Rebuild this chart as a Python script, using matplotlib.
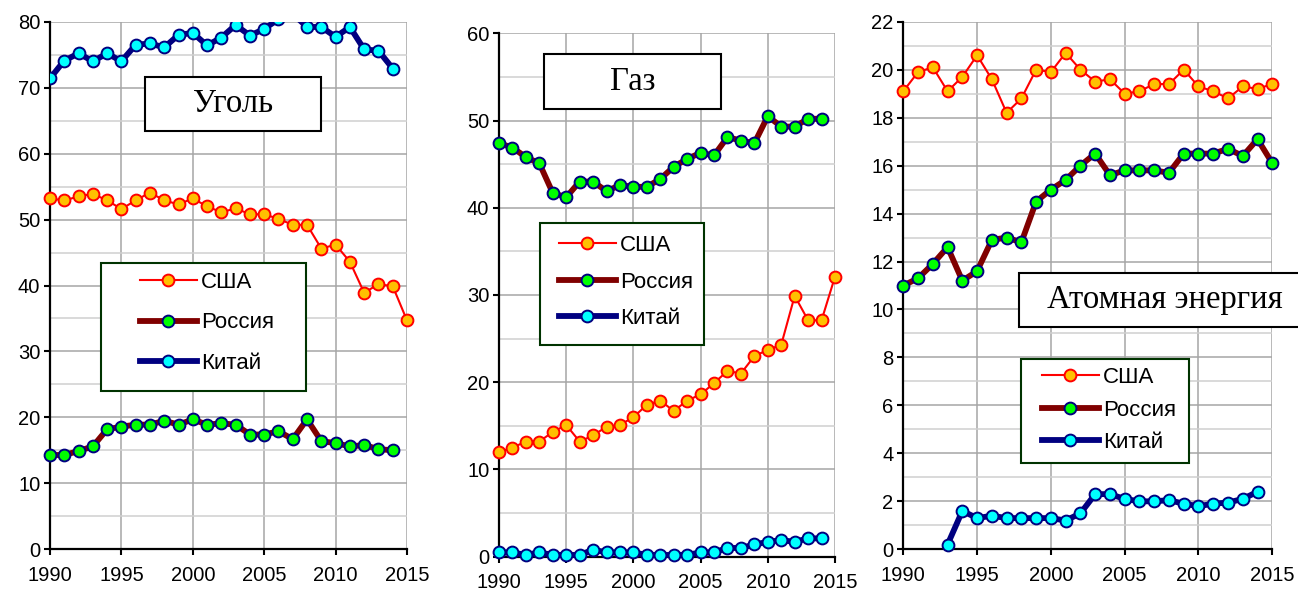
import matplotlib
matplotlib.use('Agg')
import matplotlib.pyplot as plt
from matplotlib.patches import Rectangle
from matplotlib.ticker import MultipleLocator

plt.rcParams['font.family'] = ['Liberation Sans', 'DejaVu Sans']

W, H = 1298, 590

# годы
years_26 = list(range(1990, 2016))
years_25 = list(range(1990, 2015))
years_cn_nuc = list(range(1993, 2015))

# Уголь
coal_usa = [53.2, 52.9, 53.5, 53.9, 52.9, 51.6, 52.9, 54.1, 52.9, 52.3, 53.2, 52.0, 51.1,
            51.7, 50.8, 50.8, 50.1, 49.2, 49.2, 45.6, 46.2, 43.6, 38.9, 40.2, 39.9, 34.7]
coal_rus = [14.3, 14.3, 14.9, 15.6, 18.2, 18.6, 18.9, 18.9, 19.5, 18.9, 19.7, 18.9, 19.1,
            18.9, 17.4, 17.4, 17.9, 16.7, 19.7, 16.4, 16.1, 15.6, 15.8, 15.2, 15.0]
coal_chn = [71.4, 74.1, 75.2, 74.0, 75.2, 74.0, 76.5, 76.7, 76.1, 78.0, 78.3, 76.4, 77.6,
            79.5, 77.9, 78.9, 80.4, 81.2, 79.2, 79.2, 77.7, 79.2, 75.8, 75.6, 72.9]

# Газ
gas_usa = [12.0, 12.5, 13.2, 13.2, 14.3, 15.1, 13.2, 13.9, 14.9, 15.1, 16.0, 17.4, 17.9,
           16.7, 17.9, 18.6, 19.9, 21.3, 21.0, 23.0, 23.7, 24.3, 29.9, 27.1, 27.1, 32.1]
gas_rus = [47.4, 46.9, 45.8, 45.1, 41.7, 41.2, 43.0, 43.0, 41.9, 42.6, 42.4, 42.4, 43.3,
           44.7, 45.6, 46.3, 46.0, 48.1, 47.7, 47.4, 50.5, 49.3, 49.3, 50.2, 50.2]
gas_chn = [0.5, 0.5, 0.2, 0.5, 0.2, 0.2, 0.2, 0.8, 0.5, 0.5, 0.5, 0.2, 0.2,
           0.2, 0.2, 0.5, 0.5, 1.0, 1.0, 1.4, 1.7, 1.9, 1.7, 2.1, 2.1]

# Атомная энергия
nuc_usa = [19.1, 19.9, 20.1, 19.1, 19.7, 20.6, 19.6, 18.2, 18.8, 20.0, 19.9, 20.7, 20.0,
           19.5, 19.6, 19.0, 19.1, 19.4, 19.4, 20.0, 19.3, 19.1, 18.8, 19.3, 19.2, 19.4]
nuc_rus = [11.0, 11.3, 11.9, 12.6, 11.2, 11.6, 12.9, 13.0, 12.8, 14.5, 15.0, 15.4, 16.0,
           16.5, 15.6, 15.8, 15.8, 15.8, 15.7, 16.5, 16.5, 16.5, 16.7, 16.4, 17.1, 16.1]
nuc_chn = [0.2, 1.6, 1.3, 1.4, 1.3, 1.3, 1.3, 1.3, 1.2, 1.5, 2.3, 2.3,
           2.1, 2.0, 2.0, 2.05, 1.9, 1.8, 1.9, 1.95, 2.1, 2.4]

labels = ['США', 'Россия', 'Китай']

style_usa = dict(color='red', lw=1.5, marker='o', ms=8.5, mfc='#FFC000', mec='red', mew=1.4)
style_rus = dict(color='#800000', lw=4.2, marker='o', ms=8.5, mfc='#00FF00', mec='#000080', mew=1.4)
style_chn = dict(color='#000080', lw=4.2, marker='o', ms=8.5, mfc='#00FFFF', mec='#000080', mew=1.4)


def px(x0, y0, x1, y1):
    return [x0 / W, 1 - y1 / H, (x1 - x0) / W, (y1 - y0) / H]


fig = plt.figure(figsize=(W / 100, H / 100), dpi=100)

panels = [
    dict(rect=(50, 21.7, 407, 549.3), ymax=80, major=10, minor=5,
         series=[(years_26, coal_usa, style_usa, False),
                 (years_25, coal_rus, style_rus, False),
                 (years_25, coal_chn, style_chn, True)],
         title='Уголь', tbox=(145, 77, 321, 131),
         lbox=(101, 263, 306, 391), lhx=140, lcy=323, lspace=0.88),
    dict(rect=(499, 33.3, 835, 556.7), ymax=60, major=10, minor=5,
         series=[(years_26, gas_usa, style_usa, False),
                 (years_25, gas_rus, style_rus, False),
                 (years_25, gas_chn, style_chn, False)],
         title='Газ', tbox=(544, 54, 721, 109),
         lbox=(540, 223, 704, 345), lhx=559, lcy=282, lspace=0.7),
    dict(rect=(903.3, 21.7, 1272.3, 549.3), ymax=22, major=2, minor=1,
         series=[(years_26, nuc_usa, style_usa, False),
                 (years_26, nuc_rus, style_rus, False),
                 (years_cn_nuc, nuc_chn, style_chn, False)],
         title='Атомная энергия', tbox=(1019, 273, 1310, 327),
         lbox=(1021, 359, 1189, 463), lhx=1042, lcy=410, lspace=0.51),
]

for p in panels:
    ax = fig.add_axes(px(*p['rect']))
    ax.set_xlim(1990, 2015)
    ax.set_ylim(0, p['ymax'])
    ax.xaxis.set_major_locator(MultipleLocator(5))
    ax.yaxis.set_major_locator(MultipleLocator(p['major']))
    ax.yaxis.set_minor_locator(MultipleLocator(p['minor']))
    ax.grid(which='major', color='#a6a6a6', lw=1.1)
    ax.grid(which='minor', axis='y', color='#d0d0d0', lw=1.1)
    ax.set_axisbelow(True)
    for s in ['top', 'right']:
        ax.spines[s].set_visible(False)
    for s in ['left', 'bottom']:
        ax.spines[s].set_linewidth(1.6)
        ax.spines[s].set_color('black')
    ax.tick_params(which='major', length=4, width=1.5, labelsize=14.5)
    ax.tick_params(axis='x', pad=8)
    ax.tick_params(axis='y', pad=3)
    ax.tick_params(which='minor', length=0)

    handles = []
    for xs, ys, st, clip in p['series']:
        ln, = ax.plot(xs, ys, clip_on=clip, zorder=3, **st)
        handles.append(ln)

    # рамка заголовка
    x0, y0, x1, y1 = p['tbox']
    fig.add_artist(Rectangle((x0 / W, 1 - y1 / H), (x1 - x0) / W, (y1 - y0) / H,
                             transform=fig.transFigure, facecolor='white',
                             edgecolor='black', lw=1.5, zorder=5))
    fig.text((x0 + x1) / 2 / W, 1 - (y0 + y1) / 2 / H, p['title'],
             family=['Liberation Serif', 'DejaVu Serif'], fontsize=23.5,
             ha='center', va='center', zorder=6)

    # легенда
    x0, y0, x1, y1 = p['lbox']
    fig.add_artist(Rectangle((x0 / W, 1 - y1 / H), (x1 - x0) / W, (y1 - y0) / H,
                             transform=fig.transFigure, facecolor='white',
                             edgecolor='#003300', lw=1.5, zorder=5))
    leg = fig.legend(handles, labels, loc='center left',
                     bbox_to_anchor=(p['lhx'] / W, 1 - p['lcy'] / H),
                     bbox_transform=fig.transFigure, frameon=False, borderpad=0,
                     borderaxespad=0, fontsize=16, handlelength=2.55,
                     handletextpad=0.2, labelspacing=p['lspace'], numpoints=1)
    leg.set_zorder(7)

fig.savefig('out.png', dpi=100)
